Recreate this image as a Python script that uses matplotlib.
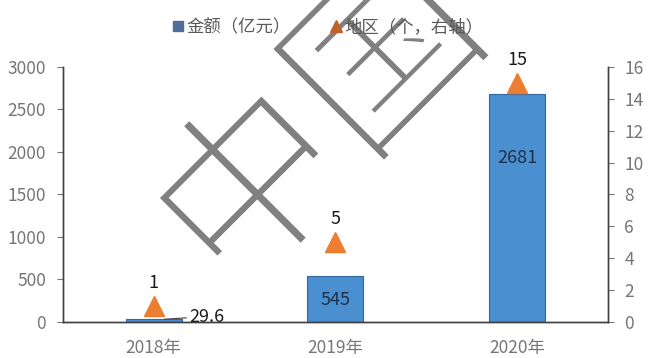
import matplotlib
matplotlib.use("Agg")
import matplotlib.pyplot as plt
import matplotlib.patheffects as pe
import numpy as np

plt.rcParams['font.family'] = ['Noto Sans CJK SC', 'DejaVu Sans']

years = ["2018年", "2019年", "2020年"]
amount = [29.6, 545, 2681]        # 金额（亿元）
regions = [1, 5, 15]              # 地区（个，右轴）
amount_labels = ["29.6", "545", "2681"]

bar_color = "#4a8fd0"
tri_color = "#ed7d31"
grey = "#767676"

fig = plt.figure(figsize=(6.48, 3.58), dpi=100)
ax = fig.add_axes([0.097, 0.101, 0.841, 0.712])
ax2 = ax.twinx()

x = np.arange(len(years))
ax.bar(x, amount, width=0.31, color=bar_color, edgecolor="#3566a0",
       linewidth=0.8, zorder=2)
ax2.plot(x, regions, linestyle="none", marker="^", markersize=15,
         color=tri_color, zorder=3)

ax.set_xlim(-0.5, 2.5)
ax.set_ylim(0, 3000)
ax.set_yticks(range(0, 3001, 500))
ax2.set_ylim(0, 16)
ax2.set_yticks(range(0, 17, 2))
ax.set_xticks(x)
ax.set_xticklabels(years)

for a in (ax, ax2):
    a.spines['top'].set_visible(False)
    a.tick_params(axis='y', colors=grey, labelsize=12.5, length=4, width=0.8,
                  pad=8)
    for s in ('left', 'right', 'bottom'):
        a.spines[s].set_color("#404040")
        a.spines[s].set_linewidth(1.0)
ax.tick_params(axis='x', length=0, colors=grey, labelsize=12.5, pad=12)

# triangle value labels
for xi, r in zip(x, regions):
    ax2.annotate(str(r), (xi, r), xytext=(0, 10), textcoords="offset points",
                 ha="center", va="bottom", fontsize=13, color="#1a1a1a")

# bar value labels
ax.annotate(amount_labels[0], (x[0] + 0.05, amount[0]), xytext=(19, 2),
            textcoords="offset points", ha="left", va="center",
            fontsize=13, color="#1a1a1a",
            arrowprops=dict(arrowstyle="-", color="#404040", lw=0.8,
                            shrinkA=0, shrinkB=1))
ax.text(x[1], amount[1] * 0.48, amount_labels[1], ha="center", va="center",
        fontsize=13, color="#1f2f4a", zorder=4)
ax.text(x[2], amount[2] * 0.72, amount_labels[2], ha="center", va="center",
        fontsize=13, color="#1f2f4a", zorder=4)

# legend
h1 = plt.Line2D([], [], linestyle="none", marker="s", markersize=7,
                color="#4f6f98")
h2 = plt.Line2D([], [], linestyle="none", marker="^", markersize=8,
                color="#c0622a")
leg = fig.legend([h1, h2], ["金额（亿元）", "地区（个，右轴）"], loc="center",
                 bbox_to_anchor=(0.505, 0.925), ncol=2, frameon=False,
                 fontsize=12.5, handlelength=0.8, handletextpad=0.1,
                 columnspacing=2.2, labelcolor="#595959")
leg.set_zorder(11)

# watermark (thin grey strokes: grey fill trimmed by a white edge)
fig.text(0.50, 0.643, "中国", fontsize=135, color="#808080", rotation=45,
         ha="center", va="center", zorder=10,
         path_effects=[pe.PathPatchEffect(facecolor="#808080",
                                          edgecolor="white", linewidth=5.5)])

fig.savefig("out.png", dpi=100)
